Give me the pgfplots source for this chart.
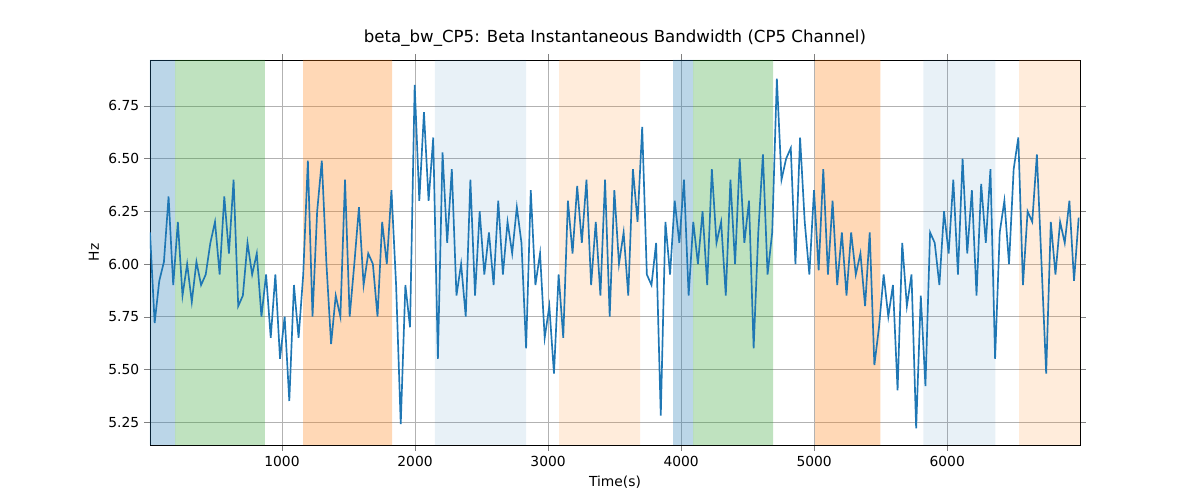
\documentclass[border=0pt]{standalone}
\usepackage{pgfplots}
\pgfplotsset{compat=1.18}
\usepackage{fontspec}
\setmainfont{DejaVu Sans}
\definecolor{mblue}{HTML}{1F77B4}
\definecolor{mgreen}{HTML}{2CA02C}
\definecolor{morange}{HTML}{FF7F0E}
\begin{document}
\begin{tikzpicture}
\begin{axis}[name=ax, at={(0,0)}, anchor=south west, scale only axis,
 width=9.3in, height=3.85in,
 xmin=8, xmax=6998, ymin=5.141, ymax=6.968,
 xtick={1000,2000,3000,4000,5000,6000},
 ytick={5.25,5.5,5.75,6,6.25,6.5,6.75},
 yticklabel style={/pgf/number format/.cd,fixed,fixed zerofill,precision=2},
 /pgf/number format/assume math mode=true,
 scaled x ticks=false, xticklabel style={/pgf/number format/1000 sep={}},
 grid=major, grid style={gray!60, line width=0.6pt},
 tick label style={font=\fontsize{10}{12}\selectfont},
 label style={font=\fontsize{10}{12}\selectfont},
 xlabel={Time(s)}, ylabel={Hz},
 title={beta\_bw\_CP5: Beta Instantaneous Bandwidth (CP5 Channel)},
 title style={font=\fontsize{12}{14}\selectfont},
 tick align=outside, axis on top=false]
\pgfplotsinvokeforeach{{8/196/mblue/0.3},{196/872/mgreen/0.3},{1158/1827/morange/0.3},{2150/2835/mblue/0.1},{3083/3692/morange/0.15},{3940/4090/mblue/0.3},{4090/4692/mgreen/0.3},{5008/5497/morange/0.3},{5820/6361/mblue/0.1},{6541/6998/morange/0.15}}{}
\addplot[draw=none, fill=mblue, fill opacity=0.3] coordinates {(8,5.141)(196,5.141)(196,6.968)(8,6.968)} \closedcycle;
\addplot[draw=none, fill=mgreen, fill opacity=0.3] coordinates {(196,5.141)(872,5.141)(872,6.968)(196,6.968)} \closedcycle;
\addplot[draw=none, fill=morange, fill opacity=0.3] coordinates {(1158,5.141)(1827,5.141)(1827,6.968)(1158,6.968)} \closedcycle;
\addplot[draw=none, fill=mblue, fill opacity=0.1] coordinates {(2150,5.141)(2835,5.141)(2835,6.968)(2150,6.968)} \closedcycle;
\addplot[draw=none, fill=morange, fill opacity=0.15] coordinates {(3083,5.141)(3692,5.141)(3692,6.968)(3083,6.968)} \closedcycle;
\addplot[draw=none, fill=mblue, fill opacity=0.3] coordinates {(3940,5.141)(4090,5.141)(4090,6.968)(3940,6.968)} \closedcycle;
\addplot[draw=none, fill=mgreen, fill opacity=0.3] coordinates {(4090,5.141)(4692,5.141)(4692,6.968)(4090,6.968)} \closedcycle;
\addplot[draw=none, fill=morange, fill opacity=0.3] coordinates {(5008,5.141)(5497,5.141)(5497,6.968)(5008,6.968)} \closedcycle;
\addplot[draw=none, fill=mblue, fill opacity=0.1] coordinates {(5820,5.141)(6361,5.141)(6361,6.968)(5820,6.968)} \closedcycle;
\addplot[draw=none, fill=morange, fill opacity=0.15] coordinates {(6541,5.141)(6998,5.141)(6998,6.968)(6541,6.968)} \closedcycle;
\addplot[mblue, line width=1.2pt, mark=none] table[x expr=\coordindex*34.9+8, y index=0] {
y
6.15
5.72
5.92
6.01
6.32
5.9
6.2
5.85
6.0
5.82
6.01
5.9
5.95
6.1
6.2
5.95
6.32
6.05
6.4
5.8
5.85
6.1
5.95
6.05
5.75
5.95
5.65
5.95
5.55
5.75
5.35
5.9
5.65
5.95
6.49
5.75
6.25
6.49
6.0
5.62
5.85
5.75
6.4
5.75
6.0
6.27
5.9
6.05
6.0
5.75
6.2
6.0
6.35
5.9
5.24
5.9
5.7
6.85
6.3
6.72
6.3
6.6
5.55
6.53
6.1
6.45
5.85
6.0
5.75
6.4
5.85
6.25
5.95
6.15
5.9
6.3
5.95
6.2
6.05
6.27
6.1
5.6
6.35
5.9
6.05
5.65
5.8
5.48
5.95
5.65
6.3
6.05
6.37
6.1
6.4
5.9
6.2
5.85
6.4
5.75
6.35
6.0
6.15
5.85
6.45
6.2
6.65
5.95
5.9
6.1
5.28
6.2
5.95
6.3
6.1
6.4
5.85
6.2
6.0
6.25
5.9
6.45
6.1
6.2
5.85
6.4
6.0
6.5
6.1
6.3
5.6
6.15
6.52
5.95
6.15
6.88
6.4
6.5
6.55
6.0
6.6
6.2
5.95
6.35
5.97
6.45
5.95
6.3
5.9
6.15
5.85
6.15
5.95
6.05
5.8
6.15
5.52
5.7
5.95
5.75
5.9
5.4
6.1
5.8
5.95
5.22
5.85
5.42
6.15
6.1
5.9
6.25
6.05
6.4
5.95
6.5
6.05
6.35
5.85
6.38
6.1
6.45
5.55
6.15
6.3
6.0
6.45
6.6
5.9
6.25
6.2
6.52
6.0
5.48
6.2
5.95
6.2
6.1
6.3
5.92
6.22
};
\end{axis}
\path[use as bounding box] (-1.5in,-0.55in) rectangle (10.5in,4.45in);
\end{tikzpicture}
\end{document}
